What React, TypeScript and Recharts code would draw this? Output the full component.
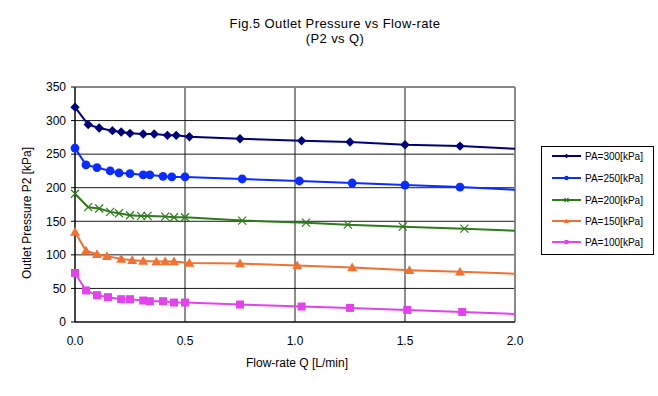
import React from "react";
import { ComposedChart, Line, XAxis, YAxis, CartesianGrid, ReferenceLine } from "recharts";

// Flow-rate Q [L/min] and outlet pressure P2 [kPa] for each inlet pressure PA
const q300 = [0, 0.06, 0.11, 0.17, 0.21, 0.25, 0.31, 0.36, 0.42, 0.46, 0.52, 0.75, 1.03, 1.25, 1.5, 1.75];
const p300 = [320, 294, 289, 285, 283, 281, 280, 280, 278, 278, 276, 273, 270, 268, 264, 262];
const end300 = 258;

const q250 = [0, 0.05, 0.1, 0.16, 0.2, 0.25, 0.31, 0.34, 0.4, 0.44, 0.5, 0.76, 1.02, 1.26, 1.5, 1.75];
const p250 = [259, 234, 230, 225, 222, 221, 219, 219, 217, 216, 216, 213, 210, 207, 204, 201];
const end250 = 197;

const q200 = [0, 0.06, 0.11, 0.16, 0.2, 0.25, 0.3, 0.33, 0.41, 0.45, 0.5, 0.76, 1.05, 1.24, 1.49, 1.77];
const p200 = [191, 171, 169, 164, 162, 159, 158, 158, 157, 156, 156, 151, 148, 145, 142, 139];
const end200 = 136;

const q150 = [0, 0.05, 0.1, 0.145, 0.21, 0.26, 0.31, 0.37, 0.41, 0.45, 0.52, 0.75, 1.01, 1.26, 1.52, 1.75];
const p150 = [134, 106, 101, 98, 94, 92, 91, 90, 90, 90, 88, 87, 84, 81, 77, 75];
const end150 = 72;

const q100 = [0, 0.05, 0.1, 0.15, 0.21, 0.25, 0.31, 0.34, 0.4, 0.45, 0.5, 0.75, 1.03, 1.25, 1.51, 1.76];
const p100 = [73, 47, 40, 37, 34, 34, 32, 31, 31, 29, 29, 26, 23, 21, 18, 15];
const end100 = 12;

const xTicks = [0, 0.5, 1.0, 1.5, 2.0];
const yTicks = [0, 50, 100, 150, 200, 250, 300, 350];

const titleLines = ["Fig.5 Outlet Pressure vs Flow-rate", "(P2 vs Q)"];
const xLabel = "Flow-rate Q [L/min]";
const yLabel = "Outlet Pressure P2 [kPa]";

type Shape = "diamond" | "circle" | "cross" | "triangle" | "square";

const series: { name: string; q: number[]; p: number[]; end: number; color: string; shape: Shape }[] = [
  { name: "PA=300[kPa]", q: q300, p: p300, end: end300, color: "#00007a", shape: "diamond" },
  { name: "PA=250[kPa]", q: q250, p: p250, end: end250, color: "#0a2cff", shape: "circle" },
  { name: "PA=200[kPa]", q: q200, p: p200, end: end200, color: "#2f7a1c", shape: "cross" },
  { name: "PA=150[kPa]", q: q150, p: p150, end: end150, color: "#f07232", shape: "triangle" },
  { name: "PA=100[kPa]", q: q100, p: p100, end: end100, color: "#e244ec", shape: "square" },
];

const FONT = "'Liberation Sans', Arial, Helvetica, sans-serif";

function Marker({ cx, cy, shape, color, s = 1 }: { cx: number; cy: number; shape: Shape; color: string; s?: number }) {
  if (shape === "diamond") {
    const r = 4.7 * s;
    return <path d={`M${cx},${cy - r}L${cx + r},${cy}L${cx},${cy + r}L${cx - r},${cy}Z`} fill={color} />;
  }
  if (shape === "circle") return <circle cx={cx} cy={cy} r={4.4 * s} fill={color} />;
  if (shape === "cross") {
    const r = 4 * s;
    return (
      <path
        d={`M${cx - r},${cy - r}L${cx + r},${cy + r}M${cx - r},${cy + r}L${cx + r},${cy - r}`}
        stroke={color}
        strokeWidth={1.2}
        fill="none"
      />
    );
  }
  if (shape === "triangle") {
    const r = 5 * s;
    return <path d={`M${cx},${cy - r}L${cx + r},${cy + r * 0.75}L${cx - r},${cy + r * 0.75}Z`} fill={color} />;
  }
  const r = 4 * s;
  return <rect x={cx - r} y={cy - r} width={2 * r} height={2 * r} fill={color} />;
}

export default function App() {
  const legendY = [156, 178, 200, 221, 242];
  return (
    <div style={{ position: "absolute", left: 0, top: 0, width: 658, height: 396, background: "#fff", fontFamily: FONT }}>
      <ComposedChart width={658} height={396} margin={{ top: 87, right: 143, bottom: 44, left: 15 }}>
        <CartesianGrid stroke="#1a1a1a" strokeWidth={1} horizontalValues={yTicks} verticalValues={xTicks} />
        <XAxis
          type="number"
          dataKey="x"
          domain={[0, 2]}
          ticks={xTicks}
          height={30}
          tickFormatter={(v: number) => v.toFixed(1)}
          tick={{ fill: "#000", fontSize: 12, fontFamily: FONT }}
          axisLine={{ stroke: "#000" }}
          tickLine={false}
          tickMargin={8}
        />
        <YAxis
          type="number"
          dataKey="y"
          domain={[0, 350]}
          ticks={yTicks}
          width={60}
          tick={{ fill: "#000", fontSize: 12, fontFamily: FONT }}
          axisLine={{ stroke: "#000" }}
          tickLine={{ stroke: "#000" }}
          tickSize={4}
          tickMargin={5}
        />
        <ReferenceLine y={350} stroke="#888" strokeWidth={2} />
        <ReferenceLine x={2} stroke="#888" strokeWidth={2} />
        {series.map((s) => {
          const data = s.q.map((x, i) => ({ x, y: s.p[i] })).concat([{ x: 2, y: s.end }]);
          const n = s.q.length;
          return (
            <Line
              key={s.name}
              data={data}
              dataKey="y"
              name={s.name}
              type="linear"
              stroke={s.color}
              strokeWidth={2}
              isAnimationActive={false}
              dot={(props: any) =>
                props.index < n ? (
                  <Marker key={`d-${s.name}-${props.index}`} cx={props.cx} cy={props.cy} shape={s.shape} color={s.color} />
                ) : (
                  <g key={`d-${s.name}-${props.index}`} />
                )
              }
              activeDot={false}
            />
          );
        })}
      </ComposedChart>
      <svg width={658} height={396} style={{ position: "absolute", left: 0, top: 0, pointerEvents: "none" }}>
        <text x={335} y={27.5} textAnchor="middle" fontSize={13} letterSpacing={0.4} fontFamily={FONT} fill="#000">
          {titleLines[0]}
        </text>
        <text x={335} y={43} textAnchor="middle" fontSize={13} letterSpacing={0.4} fontFamily={FONT} fill="#000">
          {titleLines[1]}
        </text>
        <text x={297} y={367} textAnchor="middle" fontSize={12} fontFamily={FONT} fill="#000">
          {xLabel}
        </text>
        <text
          x={31}
          y={213}
          textAnchor="middle"
          fontSize={12}
          fontFamily={FONT}
          fill="#000"
          transform="rotate(-90 31 213)"
        >
          {yLabel}
        </text>
        <rect x={541.5} y={146.5} width={112} height={108} fill="#fff" stroke="#000" strokeWidth={1} />
        {series.map((s, i) => (
          <g key={s.name}>
            <line x1={552} x2={581} y1={legendY[i]} y2={legendY[i]} stroke={s.color} strokeWidth={2} />
            <Marker cx={566.5} cy={legendY[i]} shape={s.shape} color={s.color} s={0.5} />
            <text x={585} y={legendY[i] + 3.5} fontSize={10} fontFamily={FONT} fill="#000">
              {s.name}
            </text>
          </g>
        ))}
      </svg>
    </div>
  );
}
